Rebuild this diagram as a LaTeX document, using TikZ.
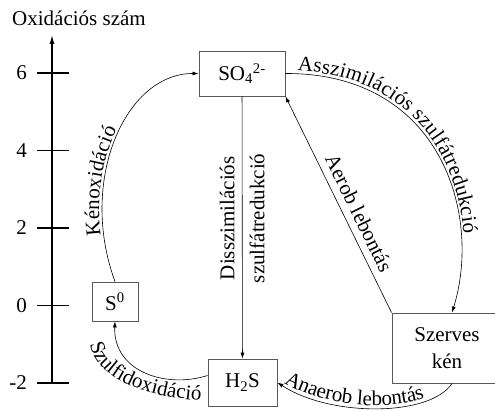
\documentclass[tikz,border=0pt]{standalone}
\usepackage{fontspec}
\setmainfont{Liberation Serif}
\usetikzlibrary{arrows.meta,decorations.text}

\begin{document}
\begin{tikzpicture}[x=1pt, y=1pt,
		font=\fontsize{21}{30}\selectfont,
		arr/.style={-{Latex[length=6pt,width=4pt]}, line width=0.6pt},
		box/.style={draw=black!65, line width=0.9pt, inner sep=0pt, align=center}]
				\useasboundingbox (0,0) rectangle (495,411);
				\fontsize{21}{30}\selectfont
				
				% Axis
				\coordinate (axbot) at (52,28);
				\coordinate (axtop) at (52,376);
				\draw[-{Latex[length=9pt,width=5pt]}, line width=1.2pt] (axbot) -- (axtop);
				\node[anchor=base west, inner sep=0pt] (title) at (12,385) {Oxidációs szám};
				\foreach \v/\y in {6/338, 4/260.5, 2/183, 0/105.5, -2/28}{
					\draw[line width=1.2pt] (37,\y) -- (69,\y); % tick
					\node[anchor=east, inner sep=0pt] (tick\v) at (27,\y) {\v};
				}
				
				% Compounds
				\node[box, minimum width=86pt, minimum height=45pt] (so4) at (242,337.5) {SO\textsubscript{4}\textsuperscript{2-}};
				\node[box, minimum width=46pt, minimum height=39pt] (s0) at (115,109.5) {S\textsuperscript{0}};
				\node[box, minimum width=69pt, minimum height=47pt] (h2s) at (242.5,28.5) {H\textsubscript{2}S};
				\node[box, minimum width=110pt, minimum height=70pt] (szerves) at (447,63) {Szerves\\[-3pt]kén};
				
				% Reactions
				\draw[arr] (so4) -- node[pos=0.465, rotate=90, align=center] (dissz) {Disszimilációs\\szulfátredukció} (h2s);
				\draw[arr] (szerves.north west) -- node[pos=0.43, sloped, above] (aerob) {Aerob lebontás} (so4.south east);
				
				\draw[arr, postaction={decorate, decoration={text along path, text={Kénoxidáció}, raise=3pt, text align={left indent=48pt}}}]
					(s0.north) .. controls (78,230) and (125,337.5) .. (so4.west);
				\draw[arr, postaction={decorate, decoration={text along path, text={Asszimilációs szulfátredukció}, raise=3pt, text align={left indent=12pt}}}]
					(so4.east) .. controls (442,338) and (482,195) .. ([xshift=5pt]szerves.north);
				
				\draw[arr] ([xshift=5pt]szerves.south) .. controls (430,-6) and (330,-6) .. (h2s.east);
				\path[decorate, decoration={text along path, text={Anaerob lebontás}, raise=3pt, text align={left indent=6pt}}]
					(h2s.east) .. controls (330,-6) and (430,-6) .. ([xshift=5pt]szerves.south);
				
				\draw[arr] ([yshift=7pt]h2s.west) .. controls (165,22) and (113,40) .. (s0.south);
				\path[decorate, decoration={text along path, text={Szulfidoxidáció}}]
					(90,67) .. controls (95,38) and (135,12) .. (214,10);
			\end{tikzpicture}
\end{document}
